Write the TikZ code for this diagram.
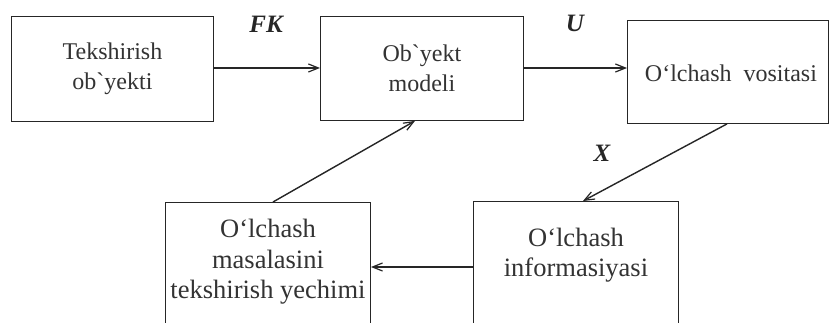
\documentclass[tikz,border=0pt]{standalone}
\usepackage{fontspec}
\usetikzlibrary{arrows.meta}
% plain family: no TeX ligatures, so the grave accent stays as typed
\newfontfamily\boxfont{Liberation Serif}
\begin{document}
\begin{tikzpicture}[x=1pt,y=-1pt,
  box/.style={draw=black!85, line width=0.9pt, rectangle, inner sep=0pt, anchor=north west},
  txt/.style={font=\boxfont\fontsize{24}{30.5}\selectfont, text=black!80, align=center, inner sep=0pt},
  bigtxt/.style={font=\boxfont\fontsize{26.5}{30.5}\selectfont, text=black!80, align=center, inner sep=0pt},
  lab/.style={font=\boxfont\bfseries\itshape\fontsize{25}{28}\selectfont, text=black!85, inner sep=0pt},
  link/.style={draw=black!85, line width=1.4pt, -{Straight Barb[length=10pt,width=8pt,line width=1.2pt]}}
]
\useasboundingbox (0,0) rectangle (830,323);
\fill[white] (0,0) rectangle (830,323);
\clip (0,0) rectangle (830,323);

% upper row
\node[box, minimum width=202pt, minimum height=105pt] (obj) at (11,16) {};
\node[txt] (objt) at (obj.center) {Tekshirish\\ob`yekti};

\node[box, minimum width=203pt, minimum height=104pt] (model) at (320,16) {};
\node[txt] (modelt) at (model.center) {Ob`yekt\\modeli};

\node[box, minimum width=201pt, minimum height=103pt] (tool) at (627,20) {};
\node[txt] (toolt) at ([xshift=3pt,yshift=-1pt]tool.center) {O‘lchash\ \ vositasi};

% lower row (boxes run on below the lower edge)
\node[box, minimum width=205pt, minimum height=150pt] (task) at (165,202) {};
\node[bigtxt] (taskt) at (268,262) {O‘lchash\\masalasini\\tekshirish yechimi};

\node[box, minimum width=205pt, minimum height=150pt] (info) at (473,201) {};
\node[bigtxt] (infot) at (576,255) {O‘lchash\\informasiyasi};

% signal labels
\node[lab] (fk) at (266,24) {FK};
\node[lab] (u) at (575,23) {U};
\node[lab] (x) at (602,153) {X};

% connectors
\draw[link] (obj.east |- 0,68) -- (model.west |- 0,68);
\draw[link] (model.east |- 0,68) -- (tool.west |- 0,68);
\draw[link] (tool.south -| 727,0) -- (info.north -| 583,0);
\draw[link] (info.west |- 0,267) -- (task.east |- 0,267);
\draw[link] (task.north -| 273,0) -- (model.south -| 415,0);
\end{tikzpicture}
\end{document}
